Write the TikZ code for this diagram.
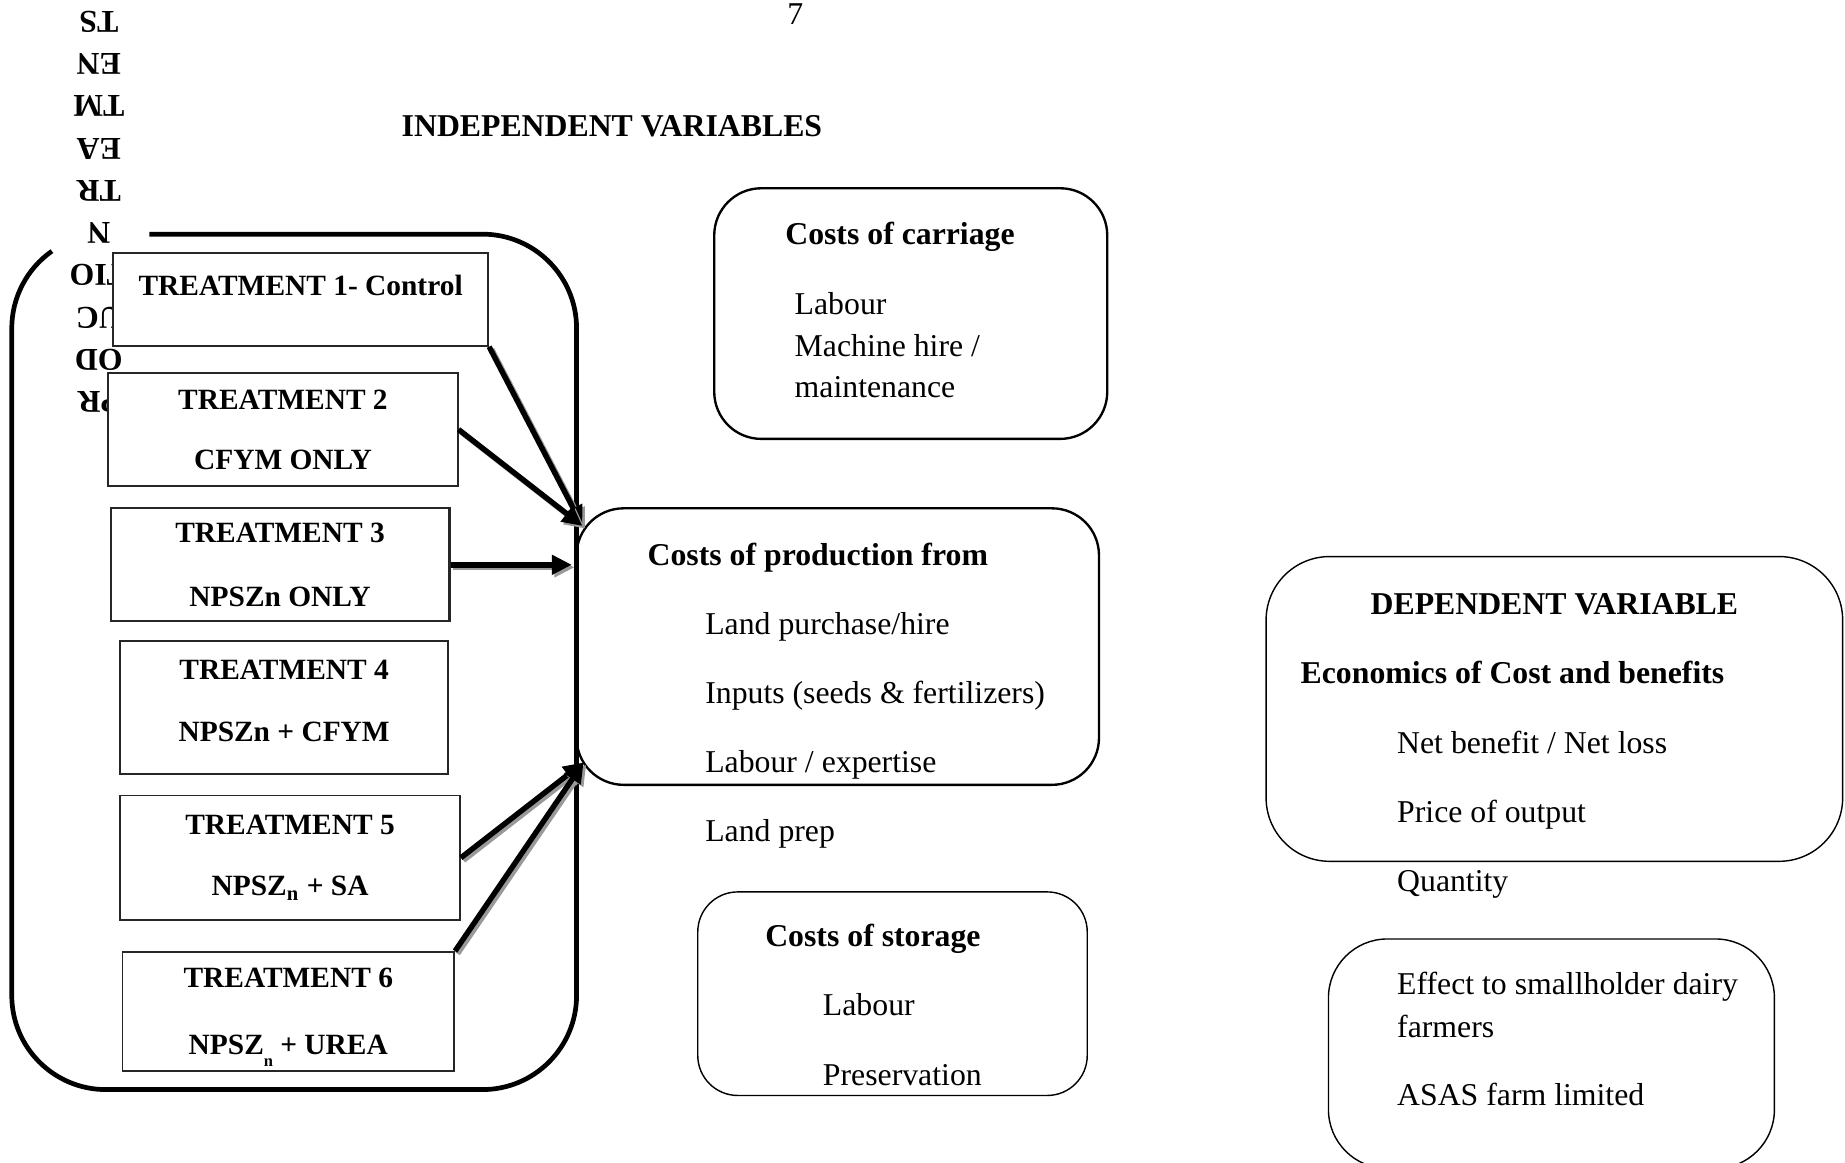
\documentclass[tikz,border=0pt]{standalone}
\usepackage{fontspec}
\setmainfont{Liberation Serif}
\usetikzlibrary{arrows.meta}

\begin{document}
\begin{tikzpicture}[
  x=0.5pt, y=-0.5pt,
  font=\fontsize{13.5}{16}\selectfont,
  outer/.style  ={line width=2pt, line join=round},
  treat/.style  ={draw=black!85, line width=0.7pt, fill=white, align=center, inner sep=0pt,
                  font=\bfseries\fontsize{12.5}{16}\selectfont},
  costbox/.style={draw=black, line width=1pt, rounded corners=20pt, inner sep=0pt},
  thinbox/.style={costbox, line width=0.6pt},
  hdr/.style    ={font=\bfseries\fontsize{13.5}{16}\selectfont, inner sep=0pt, anchor=base west},
  itm/.style    ={align=left, inner sep=0pt, anchor=north west},
  feed/.style   ={line width=2.3pt, -{Triangle[length=8.5pt,width=8pt]}},
  feedshade/.style={feed, draw=black!40, fill=black!40,
                  transform canvas={xshift=1.1pt,yshift=-1.1pt}},
]
\useasboundingbox (0,0) rectangle (1568,988);

% ---- page number and title ----
\node (pgno) at (676,12) {7};
\node[hdr] (indep) at (341,116) {INDEPENDENT VARIABLES};

% ---- treatments frame ----
\draw[outer] (127,199) -- (410,199) arc[start angle=-90,end angle=0,radius=80]
  -- (490,846) arc[start angle=0,end angle=90,radius=80]
  -- (90,926) arc[start angle=90,end angle=180,radius=80]
  -- (10,279) arc[start angle=180,end angle=235,radius=80];
\node[rotate=180, align=center, inner sep=0pt,
      font=\bfseries\fontsize{13.5}{17.95}\selectfont] (prodlbl) at (84,180)
      {PR\\OD\\UC\\TIO\\N\\TR\\EA\\TM\\EN\\TS};

% ---- treatments ----
\node[treat, minimum width=159.5pt, minimum height=39.5pt, text height=8.5pt, text depth=11.5pt]
      (t1) at (255.5,254.5) {TREATMENT 1- Control};
\node[treat, minimum width=148.5pt, minimum height=48pt]
      (t2) at (240.5,365) {TREATMENT 2\\[9.5pt]CFYM ONLY};
\node[treat, minimum width=144pt, minimum height=48pt, line width=0.9pt]
      (t3) at (238,480) {TREATMENT 3\\[11.5pt]NPSZn ONLY};
\node[treat, minimum width=139.5pt, minimum height=56.5pt, line width=0.9pt, text depth=6pt]
      (t4) at (241.5,601.5) {TREATMENT 4\\[10pt]NPSZn + CFYM};
\node[treat, minimum width=144.5pt, minimum height=53pt]
      (t5) at (246.5,729) {TREATMENT 5\\[10pt]NPSZ\textsubscript{n} + SA};
\node[treat, minimum width=141pt, minimum height=50.5pt]
      (t6) at (245,859.5) {TREATMENT 6\\[12.5pt]NPSZ\smash{\raisebox{-5pt}{\scriptsize n}} + UREA};

% ---- cost boxes ----
\node[costbox, minimum width=167pt, minimum height=106.5pt] (carr) at (774,266.5) {};
\node[hdr] (carrhdr) at (667,208) {Costs of carriage};
\node[itm, font=\fontsize{13.5}{17.75}\selectfont] (carritm) at (675,248)
      {Labour\\Machine hire /\\maintenance};

\node[costbox, minimum width=222pt, minimum height=117.5pt] (prod) at (712,549.5) {};
\node[hdr] (prodhdr) at (550,481) {Costs of production from};
\node[itm, font=\fontsize{13.5}{29.35}\selectfont] (proditm) at (599,520)
      {Land purchase/hire\\Inputs (seeds \& fertilizers)\\Labour / expertise\\Land prep};

\node[thinbox, rounded corners=17pt, minimum width=165.5pt, minimum height=86.5pt] (stor) at (758.5,844.5) {};
\node[hdr] (storhdr) at (650,804) {Costs of storage};
\node[itm, font=\fontsize{13.5}{29.5}\selectfont] (storitm) at (699,844)
      {Labour\\Preservation};

% ---- dependent side ----
\node[thinbox, rounded corners=27pt, minimum width=245pt, minimum height=129.5pt] (dep) at (1321,602.5) {};
\node[hdr, anchor=base] (dephdr) at (1321,522) {DEPENDENT VARIABLE};
\node[hdr] (econ) at (1105,581) {Economics of Cost and benefits};
\node[itm, font=\fontsize{13.5}{29.35}\selectfont] (depitm) at (1187,621)
      {Net benefit / Net loss\\Price of output\\Quantity};

\node[thinbox, rounded corners=25pt, minimum width=189.5pt, minimum height=97.5pt] (eff) at (1318.5,895.5) {};
\node[itm, font=\fontsize{13.5}{18}\selectfont] (effitm) at (1187,826)
      {Effect to smallholder dairy\\farmers\\[11pt]ASAS farm limited};

% ---- arrows ----
\coordinate (inup)  at (495,447);
\coordinate (inlow) at (496,648);
\coordinate (in3)   at (486,480);
\foreach \src/\dst in {t1.south east/inup, t2.east/inup, t3.east/in3, t5.east/inlow, t6.north east/inlow}{
  \draw[feedshade] (\src) -- (\dst);
  \draw[feed] (\src) -- (\dst);
}
\end{tikzpicture}
\end{document}
